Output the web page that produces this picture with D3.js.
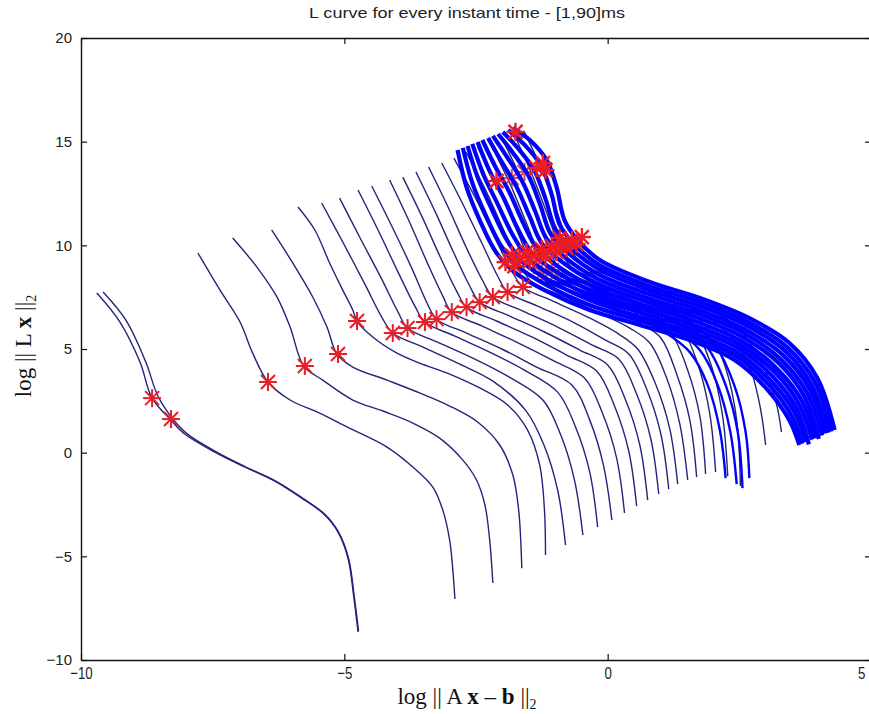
<!DOCTYPE html>
<html>
<head>
<meta charset="utf-8">
<script src="https://cdn.jsdelivr.net/npm/d3@7"></script>
<style>
  body { margin: 0; background: #fff; }
  svg { display: block; }
</style>
</head>
<body>
<svg id="chart" width="869" height="714"></svg>
<script>
// axis ticks
const xTicks = [-10, -5, 0, 5];
const yTicks = [-10, -5, 0, 5, 10, 15, 20];

const titleText = 'L curve for every instant time - [1,90]ms';

// L-curves, [log ||Ax-b||, log ||Lx||]
const curveA1 = [[-9.70,7.70],[-9.26,6.30],[-8.88,4.37],[-8.65,2.63],[-8.31,1.62],[-8.03,0.90],[-7.46,0.03],[-6.89,-0.69],[-6.32,-1.37],[-5.81,-2.19],[-5.39,-2.96],[-5.12,-3.83],[-4.93,-5.09],[-4.82,-6.97],[-4.74,-8.65]];
const curveA2 = [[-9.58,7.75],[-9.15,6.40],[-8.77,4.37],[-8.54,2.73],[-8.27,1.67],[-7.99,0.92],[-7.44,0.05],[-6.88,-0.68],[-6.31,-1.36],[-5.80,-2.18],[-5.38,-2.95],[-5.11,-3.83],[-4.92,-5.09],[-4.81,-6.97],[-4.73,-8.62]];
const curveB1 = [[-7.78,9.63],[-7.36,7.84],[-6.98,6.30],[-6.74,4.80],[-6.45,3.41],[-6.03,2.54],[-5.47,1.91],[-4.95,1.24],[-4.19,0.27],[-3.70,-0.69],[-3.32,-1.66],[-3.13,-2.77],[-3.00,-4.22],[-2.94,-5.66],[-2.90,-7.06]];
const curveB2 = [[-7.12,10.35],[-6.66,8.95],[-6.28,7.51],[-6.03,6.06],[-5.77,4.18],[-5.41,3.50],[-4.84,2.54],[-4.27,2.01],[-3.70,1.43],[-3.19,0.70],[-2.75,-0.36],[-2.49,-1.32],[-2.33,-2.53],[-2.24,-4.22],[-2.18,-6.29]];
const curveB3 = [[-6.38,10.74],[-5.98,9.15],[-5.60,7.51],[-5.33,6.06],[-5.14,4.76],[-4.84,4.13],[-4.19,3.50],[-3.57,2.88],[-3.00,2.25],[-2.47,1.48],[-2.05,0.37],[-1.80,-1.08],[-1.69,-2.77],[-1.63,-5.57]];
const curveB4 = [[-5.88,11.85],[-5.56,10.74],[-5.28,9.15],[-5.03,7.84],[-4.84,6.88],[-4.76,6.35],[-4.46,5.58],[-4.00,4.80],[-3.57,4.32],[-3.00,3.79],[-2.43,3.12],[-1.90,2.30],[-1.52,1.09],[-1.29,-0.60],[-1.20,-2.77],[-1.18,-4.94]];
const curveB5 = [[-5.43,12.04],[-5.03,10.16],[-4.61,8.13],[-4.29,6.54],[-4.08,5.77],[-3.51,5.09],[-2.85,4.32],[-2.18,3.45],[-1.56,2.05],[-1.21,0.37],[-0.95,-1.80],[-0.80,-4.46]];
const curveB6 = [[-5.09,12.28],[-4.71,10.40],[-4.29,8.37],[-3.98,6.78],[-3.80,6.01],[-3.23,5.33],[-2.56,4.56],[-1.90,3.69],[-1.23,2.54],[-0.89,0.85],[-0.63,-1.32],[-0.47,-3.98]];
const curveB7 = [[-4.74,12.67],[-4.36,10.74],[-3.98,8.71],[-3.66,7.07],[-3.47,6.30],[-2.90,5.62],[-2.24,4.85],[-1.58,3.98],[-0.95,2.92],[-0.61,1.24],[-0.34,-0.94],[-0.19,-3.59]];
const curveB8 = [[-4.48,12.86],[-4.10,10.93],[-3.72,8.90],[-3.43,7.22],[-3.25,6.44],[-2.68,5.77],[-2.01,5.00],[-1.35,4.13],[-0.68,3.26],[-0.34,1.57],[-0.08,-0.60],[0.08,-3.25]];
const curveB9 = [[-4.14,13.15],[-3.78,11.22],[-3.43,9.19],[-3.13,7.55],[-2.96,6.78],[-2.39,6.11],[-1.73,5.33],[-1.06,4.47],[-0.44,3.60],[-0.10,1.91],[0.17,-0.26],[0.32,-2.91]];
const curveB10 = [[-3.89,13.29],[-3.53,11.41],[-3.17,9.39],[-2.87,7.80],[-2.68,7.02],[-2.11,6.35],[-1.44,5.58],[-0.78,4.71],[-0.21,3.94],[0.13,2.25],[0.40,0.08],[0.55,-2.58]];
const curveB11 = [[-3.64,13.54],[-3.28,11.65],[-2.92,9.63],[-2.62,8.04],[-2.43,7.26],[-1.86,6.59],[-1.20,5.82],[-0.53,4.95],[0.00,4.23],[0.34,2.54],[0.61,0.37],[0.76,-2.29]];
const curveB12 = [[-3.40,13.78],[-3.04,11.90],[-2.68,9.87],[-2.37,8.28],[-2.18,7.51],[-1.61,6.83],[-0.95,6.06],[-0.29,5.19],[0.21,4.52],[0.55,2.83],[0.82,0.66],[0.97,-2.00]];
const curveB13 = [[-3.15,13.97],[-2.77,12.09],[-2.39,10.11],[-2.09,8.52],[-1.90,7.75],[-1.33,7.07],[-0.66,6.30],[-0.04,5.43],[0.40,4.76],[0.74,3.07],[1.01,0.90],[1.16,-1.76]];
const curveB14 = [[-2.92,14.21],[-2.52,12.33],[-2.14,10.35],[-1.82,8.76],[-1.61,7.99],[-1.04,7.31],[-0.38,6.54],[0.21,5.72],[0.57,5.00],[0.91,3.31],[1.18,1.14],[1.33,-1.52]];
const curveC1 = [[-2.69,14.50],[-2.30,12.57],[-1.94,10.55],[-1.63,8.90],[-1.42,8.18],[-0.85,7.55],[-0.19,6.78],[0.42,6.01],[0.80,5.29],[1.12,3.60],[1.37,1.38],[1.52,-1.32]];
const curveC2 = [[-2.47,14.74],[-2.09,12.81],[-1.73,10.74],[-1.44,9.10],[-1.23,8.37],[-0.66,7.80],[0.00,7.02],[0.61,6.25],[1.01,5.53],[1.31,3.79],[1.56,1.57],[1.69,-1.18]];
const curveC3 = [[-2.24,14.98],[-1.86,13.00],[-1.52,10.93],[-1.25,9.29],[-1.04,8.57],[-0.47,7.99],[0.19,7.26],[0.80,6.49],[1.21,5.72],[1.52,3.98],[1.75,1.77],[1.86,-1.03]];
const curveC4 = [[-2.01,15.18],[-1.65,13.25],[-1.31,11.12],[-1.06,9.48],[-0.85,8.71],[-0.29,8.18],[0.38,7.46],[0.99,6.69],[1.42,5.91],[1.73,4.13],[1.94,1.86],[2.05,-0.94]];
const curveC5 = [[-1.78,15.37],[-1.44,13.44],[-1.12,11.32],[-0.87,9.68],[-0.66,8.86],[-0.10,8.33],[0.57,7.65],[1.18,6.88],[1.63,6.06],[1.97,4.18],[2.18,1.81],[2.28,-1.13]];
const curveC6 = [[-1.59,15.51],[-1.25,13.63],[-0.95,11.51],[-0.70,9.87],[-0.49,9.05],[0.08,8.52],[0.76,7.84],[1.40,6.98],[1.88,6.06],[2.24,4.08],[2.45,1.57],[2.52,-1.61]];
const curveF1 = [[-0.34,8.71],[0.61,7.84],[1.56,6.98],[2.22,5.91],[2.66,4.37],[2.88,2.40],[3.00,0.37]];
const curveF2 = [[-0.15,8.90],[0.80,8.04],[1.75,7.17],[2.47,6.01],[2.92,4.37],[3.20,2.40],[3.30,0.99]];

// the dense bundle (plotted in pure blue)
const curveD0 = [[-2.85,14.60],[-2.68,12.81],[-2.43,11.22],[-2.11,9.63],[-1.77,8.71],[-1.20,7.84],[-0.34,6.88],[0.61,6.16],[1.56,5.43],[2.41,4.47],[3.04,3.02],[3.45,1.57],[3.64,0.37]];
const curveD1 = [[-2.75,14.70],[-2.57,13.01],[-2.32,11.48],[-2.01,9.92],[-1.68,8.94],[-1.14,8.06],[-0.32,7.10],[0.63,6.35],[1.58,5.61],[2.44,4.65],[3.08,3.22],[3.50,1.75],[3.70,0.44]];
const curveD2 = [[-2.66,14.79],[-2.46,13.22],[-2.20,11.74],[-1.90,10.20],[-1.60,9.16],[-1.09,8.28],[-0.31,7.32],[0.64,6.53],[1.59,5.80],[2.46,4.83],[3.11,3.43],[3.55,1.94],[3.76,0.52]];
const curveD3 = [[-2.57,14.89],[-2.36,13.42],[-2.09,12.00],[-1.80,10.49],[-1.51,9.39],[-1.03,8.50],[-0.29,7.53],[0.66,6.72],[1.61,5.98],[2.49,5.02],[3.15,3.63],[3.59,2.12],[3.82,0.40]];
const curveD4 = [[-2.47,14.98],[-2.25,13.63],[-1.97,12.26],[-1.70,10.77],[-1.43,9.61],[-0.97,8.72],[-0.27,7.75],[0.68,6.91],[1.63,6.16],[2.51,5.20],[3.19,3.84],[3.64,2.30],[3.88,0.63]];
const curveD5 = [[-2.38,15.08],[-2.14,13.83],[-1.86,12.53],[-1.60,11.06],[-1.34,9.84],[-0.92,8.94],[-0.25,7.97],[0.70,7.10],[1.65,6.35],[2.54,5.38],[3.22,4.04],[3.69,2.49],[3.94,0.69]];
const curveD6 = [[-2.27,15.18],[-2.02,14.06],[-1.73,12.82],[-1.48,11.38],[-1.25,10.09],[-0.85,9.17],[-0.24,8.21],[0.71,7.30],[1.66,6.55],[2.56,5.58],[3.27,4.27],[3.74,2.69],[4.01,0.66]];
const curveD7 = [[-2.18,15.28],[-1.91,14.26],[-1.62,13.08],[-1.38,11.67],[-1.16,10.32],[-0.80,9.39],[-0.22,8.42],[0.73,7.48],[1.68,6.73],[2.59,5.76],[3.30,4.47],[3.79,2.87],[4.07,0.83]];
const curveD8 = [[-2.08,15.37],[-1.80,14.47],[-1.50,13.34],[-1.28,11.95],[-1.08,10.54],[-0.74,9.61],[-0.20,8.64],[0.75,7.67],[1.70,6.91],[2.61,5.94],[3.34,4.68],[3.84,3.05],[4.13,0.92]];
const curveD9 = [[-1.99,15.47],[-1.70,14.67],[-1.39,13.60],[-1.18,12.24],[-0.99,10.77],[-0.68,9.82],[-0.18,8.86],[0.77,7.86],[1.72,7.09],[2.64,6.13],[3.38,4.88],[3.88,3.23],[4.19,0.96]];
const curveD10 = [[-1.89,15.56],[-1.59,14.88],[-1.27,13.86],[-1.07,12.52],[-0.91,10.99],[-0.63,10.04],[-0.17,9.07],[0.78,8.04],[1.73,7.28],[2.66,6.31],[3.41,5.08],[3.93,3.42],[4.25,1.02]];
const curveD11 = [[-1.80,15.66],[-1.48,15.08],[-1.16,14.12],[-0.97,12.81],[-0.82,11.22],[-0.57,10.26],[-0.15,9.29],[0.80,8.23],[1.75,7.46],[2.69,6.49],[3.45,5.29],[3.98,3.60],[4.31,1.09]];
const curveE1 = [[-1.20,8.23],[-0.34,7.46],[0.42,6.69],[1.08,5.82],[1.56,4.85],[1.90,3.26],[2.13,1.09],[2.24,-1.23]];
const curveE2 = [[-1.10,8.33],[-0.25,7.60],[0.61,6.83],[1.27,5.96],[1.75,4.95],[2.09,3.26],[2.33,0.99],[2.45,-1.52]];
const curveE3 = [[-1.01,8.42],[-0.15,7.75],[0.70,7.02],[1.40,6.16],[1.90,5.05],[2.24,3.26],[2.47,0.99],[2.56,-1.71]];
const curveE4 = [[-0.91,8.52],[-0.04,7.89],[0.83,7.17],[1.56,6.30],[2.05,5.14],[2.41,3.21],[2.62,0.99],[2.69,-1.23]];

const darkCurves = [curveA1, curveA2, curveB1, curveB2, curveB3, curveB4, curveB5, curveB6,
  curveB7, curveB8, curveB9, curveB10, curveB11, curveB12, curveB13, curveB14,
  curveC1, curveC2, curveC3, curveC4, curveC5, curveC6, curveF1, curveF2];
const blueCurves = [curveD0, curveD1, curveD2, curveD3, curveD4, curveD5, curveD6, curveD7,
  curveD8, curveD9, curveD10, curveD11];
const blueTailCurves = [curveE1, curveE2, curveE3, curveE4];

// corner markers (red asterisks)
const cornerStars = [[-8.65,2.63],[-8.29,1.62],[-6.45,3.41],[-5.75,4.18],[-5.12,4.76],[-4.76,6.35],
  [-4.08,5.77],[-3.80,6.01],[-3.47,6.30],[-3.25,6.44],[-2.96,6.78],[-2.68,7.02],[-2.43,7.26],
  [-2.18,7.51],[-1.90,7.75],[-1.61,7.99]];
const clusterStars = [[-1.94,9.19],[-1.82,9.53],[-1.77,9.00],[-1.67,9.39],[-1.54,9.68],[-1.48,9.24],
  [-1.37,9.53],[-1.25,9.82],[-1.18,9.44],[-1.06,9.97],[-0.97,9.68],[-0.87,10.11],[-0.78,9.87],
  [-0.68,10.26],[-0.59,10.06],[-0.49,10.40],[-0.91,10.35],[-1.75,15.47],[-1.35,13.73],
  [-1.23,13.97],[-1.18,13.63],[-2.11,13.10]];
const hiddenStars = [[-1.82,13.25],[-1.58,13.54],[-1.25,8.66],[-1.06,8.81]];

const svg = d3.select('#chart');
const margin = { top: 38, left: 81 };
const plotW = 790, plotH = 622;

const x = d3.scaleLinear().domain([-10, 5]).range([margin.left, margin.left + plotW]);
const y = d3.scaleLinear().domain([-10, 20]).range([margin.top + plotH, margin.top]);

svg.append('defs').append('clipPath').attr('id', 'plot-clip')
  .append('rect')
  .attr('x', x(-10)).attr('y', y(20))
  .attr('width', x(5) - x(-10)).attr('height', y(-10) - y(20));

const line = d3.line()
  .x(d => x(d[0]))
  .y(d => y(d[1]))
  .curve(d3.curveCatmullRom.alpha(0.5));

const plot = svg.append('g').attr('clip-path', 'url(#plot-clip)');

plot.selectAll('path.dark')
  .data(darkCurves)
  .enter().append('path')
  .attr('class', 'dark')
  .attr('fill', 'none')
  .attr('stroke', '#24247c')
  .attr('stroke-width', 1.4)
  .attr('d', line);

function drawStars(g, data, color, opacity, width) {
  const r = 9, rd = 7;
  const s = g.selectAll(null).data(data).enter().append('g')
    .attr('transform', d => 'translate(' + x(d[0]) + ',' + y(d[1]) + ')')
    .attr('stroke', color)
    .attr('stroke-width', width)
    .attr('opacity', opacity);
  s.append('line').attr('x1', -r).attr('x2', r);
  s.append('line').attr('y1', -r).attr('y2', r);
  s.append('line').attr('x1', -rd).attr('y1', -rd).attr('x2', rd).attr('y2', rd);
  s.append('line').attr('x1', -rd).attr('y1', rd).attr('x2', rd).attr('y2', -rd);
}

drawStars(plot, hiddenStars, '#d42a3a', 0.85, 2);

plot.selectAll('path.bundle')
  .data(blueCurves)
  .enter().append('path')
  .attr('class', 'bundle')
  .attr('fill', 'none')
  .attr('stroke', '#0000ff')
  .attr('stroke-width', 4.2)
  .attr('stroke-linejoin', 'round')
  .attr('d', line);

plot.selectAll('path.tail')
  .data(blueTailCurves)
  .enter().append('path')
  .attr('class', 'tail')
  .attr('fill', 'none')
  .attr('stroke', '#0000ff')
  .attr('stroke-width', 2.4)
  .attr('d', line);

drawStars(plot, cornerStars, '#e3202a', 1, 2);
drawStars(plot, clusterStars, '#ee1c24', 1, 2.4);

// axes, MATLAB style: ticks pointing inward, full box
const axisColor = '#111';
const gx = svg.append('g')
  .attr('transform', 'translate(0,' + y(-10) + ')')
  .call(d3.axisBottom(x).tickValues(xTicks).tickSize(-6).tickSizeOuter(0).tickPadding(7).tickFormat(d3.format('d')));
const gxTop = svg.append('g')
  .attr('transform', 'translate(0,' + y(20) + ')')
  .call(d3.axisTop(x).tickValues(xTicks).tickSize(-6).tickSizeOuter(0).tickFormat(''));
const gy = svg.append('g')
  .attr('transform', 'translate(' + x(-10) + ',0)')
  .call(d3.axisLeft(y).tickValues(yTicks).tickSize(-6).tickSizeOuter(0).tickPadding(9).tickFormat(d3.format('d')));
const gyRight = svg.append('g')
  .attr('transform', 'translate(' + x(5) + ',0)')
  .call(d3.axisRight(y).tickValues(yTicks).tickSize(-6).tickSizeOuter(0).tickFormat(''));

[gx, gxTop, gy, gyRight].forEach(g => {
  g.selectAll('path.domain').attr('stroke', axisColor).attr('stroke-width', 1.4);
  g.selectAll('.tick line').attr('stroke', axisColor).attr('stroke-width', 1.2);
});

gy.selectAll('.tick text')
  .attr('font-family', '"Liberation Sans", Arial, sans-serif')
  .attr('font-size', 15)
  .attr('fill', '#222');

gx.selectAll('.tick text')
  .attr('font-family', '"Liberation Sans", Arial, sans-serif')
  .attr('font-size', 17)
  .attr('fill', '#222')
  .attr('transform', 'scale(0.78,1)');

// the last label sits on the window edge: keep it inside
gx.selectAll('.tick text')
  .filter(d => d === 5)
  .attr('text-anchor', 'end')
  .attr('x', -8);

// title
svg.append('text')
  .attr('x', 467)
  .attr('y', 18)
  .attr('text-anchor', 'middle')
  .attr('font-family', '"Liberation Sans", Arial, sans-serif')
  .attr('font-size', 15)
  .attr('fill', '#222')
  .attr('textLength', 316)
  .attr('lengthAdjust', 'spacingAndGlyphs')
  .text(titleText);

// axis labels
const serif = '"Liberation Serif", "Times New Roman", serif';

const xl = svg.append('text')
  .attr('x', 467)
  .attr('y', 704)
  .attr('text-anchor', 'middle')
  .attr('font-family', serif)
  .attr('font-size', 23)
  .attr('fill', '#111');
xl.append('tspan').text('log || A ');
xl.append('tspan').attr('font-weight', 'bold').text('x');
xl.append('tspan').text(' \u2013 ');
xl.append('tspan').attr('font-weight', 'bold').text('b');
xl.append('tspan').text(' ||');
xl.append('tspan').attr('font-size', 14).attr('dy', 5).text('2');

const yl = svg.append('text')
  .attr('transform', 'translate(31,346) rotate(-90)')
  .attr('text-anchor', 'middle')
  .attr('font-family', serif)
  .attr('font-size', 23)
  .attr('fill', '#111');
yl.append('tspan').text('log || L ');
yl.append('tspan').attr('font-weight', 'bold').text('x');
yl.append('tspan').text(' ||');
yl.append('tspan').attr('font-size', 14).attr('dy', 5).text('2');
</script>
</body>
</html>
